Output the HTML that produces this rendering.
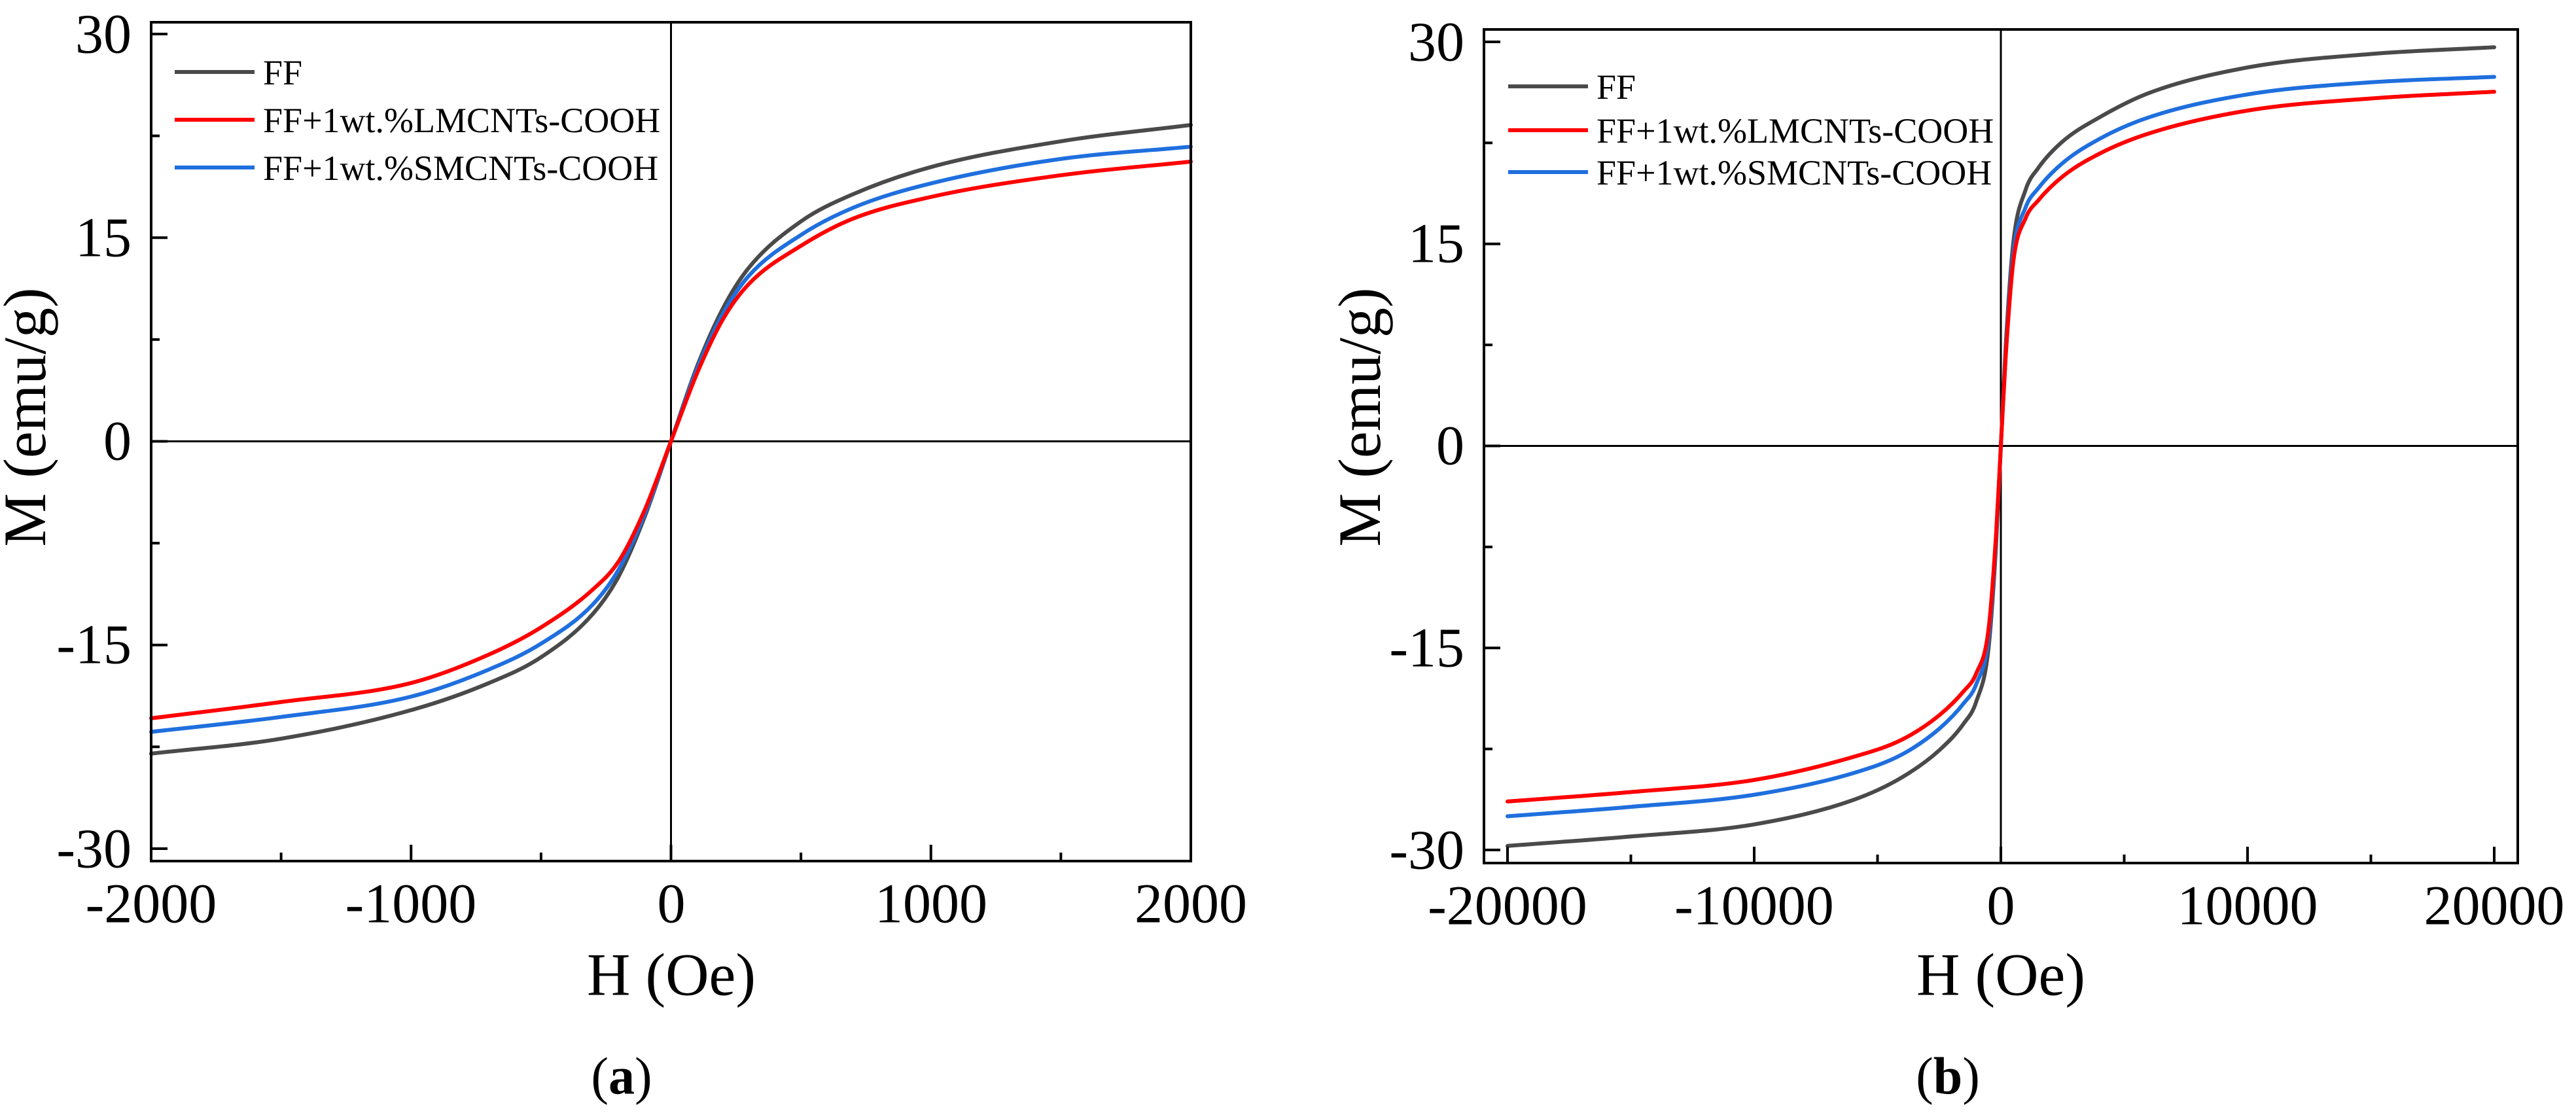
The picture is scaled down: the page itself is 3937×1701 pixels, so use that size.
<!DOCTYPE html>
<html><head><meta charset="utf-8"><style>
html,body{margin:0;padding:0;background:#fff;}
#wrap{position:relative;width:3937px;height:1701px;overflow:hidden;}
svg{display:block;position:absolute;left:0;top:0;}
.lbl{position:absolute;font-family:"Liberation Serif","Times New Roman",serif;line-height:1;white-space:nowrap;color:#000;font-size:40px;}
</style></head><body>
<div id="wrap">
<svg id="fig" width="3937" height="1701" viewBox="0 0 3937 1701" xmlns="http://www.w3.org/2000/svg"></svg>
</div>
<script>
// Panel (a) data
const hA = [-2000,-1500,-1000,-700,-500,-300,-200,-100,0,100,200,300,500,700,1000,1500,2000];
const ffA = [-23.0,-21.9,-19.8,-17.8,-15.9,-12.7,-9.9,-5.5,0,5.5,9.8,12.8,16.2,18.2,20.2,22.1,23.3];
const smA = [-21.4,-20.3,-18.8,-16.8,-14.9,-12.0,-9.4,-5.3,0,5.3,9.4,12.2,15.2,17.2,19.0,20.8,21.7];
const lmA = [-20.4,-19.2,-17.8,-15.7,-13.7,-10.9,-8.8,-5.0,0,5.0,9.0,11.6,14.4,16.4,18.0,19.6,20.6];
const xTicksA = [-2000,-1000,0,1000,2000];
const xTickLabelsA = ["-2000","-1000","0","1000","2000"];
// Panel (b) data
const hB = [-20000,-15000,-10000,-6000,-4000,-2500,-1500,-1000,-500,-200,0,200,500,1000,1500,2500,4000,6000,10000,15000,20000];
const ffB = [-29.7,-29.0,-28.1,-26.3,-24.6,-22.6,-20.6,-19.0,-15,-7.5,0,7.5,15,19.0,20.6,22.6,24.4,26.2,28.1,29.1,29.6];
const smB = [-27.5,-26.8,-25.9,-24.3,-22.9,-21.0,-19.1,-17.7,-14.2,-7,0,7,14.2,17.7,19.1,21.0,22.8,24.4,26.1,27.0,27.4];
const lmB = [-26.4,-25.7,-24.8,-23.1,-21.8,-20.0,-18.2,-16.9,-13.6,-6.7,0,6.7,13.6,16.9,18.2,20.0,21.7,23.2,24.9,25.8,26.3];
const xTicksB = [-20000,-10000,0,10000,20000];
const xTickLabelsB = ["-20000","-10000","0","10000","20000"];
const yTicks = [-30,-15,0,15,30];
const yTickLabels = ["-30","-15","0","15","30"];
const seriesNames = ["FF","FF+1wt.%LMCNTs-COOH","FF+1wt.%SMCNTs-COOH"];
const seriesColors = ["#4a4a4a","#ff0000","#1f6fde"];

const NS="http://www.w3.org/2000/svg";
const svg=document.getElementById('fig');
const wrap=document.getElementById('wrap');
function mk(tag,attrs,parent,text){const e=document.createElementNS(NS,tag);for(const k in attrs)e.setAttribute(k,attrs[k]);if(text!==undefined)e.textContent=text;(parent||svg).appendChild(e);return e;}
// HTML label rendered at 40px and scaled to target size; (x,y)=baseline anchor point
function label(x,y,size,anchor,str,rot){
  const d=document.createElement('div');
  d.className='lbl';
  d.textContent=str;
  const base=40*0.8375;
  const k=size/40;
  d.style.left=x+'px';
  d.style.top=(y-base)+'px';
  const tx=anchor==='end'?'-100%':anchor==='middle'?'-50%':'0';
  d.style.transformOrigin='0 '+base+'px';
  d.style.transform=(rot?'rotate('+rot+'deg) ':'')+'scale('+k+') translateX('+tx+')';
  wrap.appendChild(d);
  return d;
}

function monoPath(px,py){
  const n=px.length;const d=[],m=[];
  for(let i=0;i<n-1;i++)d.push((py[i+1]-py[i])/(px[i+1]-px[i]));
  m.push(d[0]);for(let i=1;i<n-1;i++){m.push(d[i-1]*d[i]<=0?0:(d[i-1]+d[i])/2);}m.push(d[n-2]);
  for(let i=0;i<n-1;i++){if(d[i]===0){m[i]=0;m[i+1]=0;continue;}const a=m[i]/d[i],b=m[i+1]/d[i];const s=a*a+b*b;if(s>9){const t=3/Math.sqrt(s);m[i]=t*a*d[i];m[i+1]=t*b*d[i];}}
  let p='M'+px[0].toFixed(1)+','+py[0].toFixed(1);
  for(let i=0;i<n-1;i++){const h=px[i+1]-px[i];p+=' C'+(px[i]+h/3).toFixed(1)+','+(py[i]+m[i]*h/3).toFixed(1)+' '+(px[i+1]-h/3).toFixed(1)+','+(py[i+1]-m[i+1]*h/3).toFixed(1)+' '+px[i+1].toFixed(1)+','+py[i+1].toFixed(1);}
  return p;
}

function panel(cfg){
  const g=mk('g',{});
  
  
  const X=v=>cfg.x0px+(v-cfg.xmin)/(cfg.xmax-cfg.xmin)*(cfg.x1px-cfg.x0px);
  const Y=v=>cfg.y0px+(v-(-30))/(60)*(cfg.y1px-cfg.y0px);
  const L=cfg.left,R=cfg.right,T=cfg.top,B=cfg.bottom;
  const zv=mk('line',{x1:X(0),x2:X(0),y1:T,y2:B,stroke:'#000','stroke-width':3},g);
  
  const zh=mk('line',{x1:L,x2:R,y1:Y(0),y2:Y(0),stroke:'#000','stroke-width':3},g);
  
  const hs=cfg.h;const sets=[cfg.ff,cfg.lm,cfg.sm];
  [0,2,1].forEach(i=>{
    const px=hs.map(X),py=sets[i].map(Y);
    const p=mk('path',{d:monoPath(px,py),fill:'none',stroke:seriesColors[i],'stroke-width':6,'stroke-linecap':'round','stroke-linejoin':'round'},g);
    
    
  });
  const fr=mk('rect',{x:L,y:T,width:R-L,height:B-T,fill:'none',stroke:'#000','stroke-width':4},g);
  
  yTicks.forEach((v,i)=>{
    const t=mk('line',{x1:L,x2:L+25,y1:Y(v),y2:Y(v),stroke:'#000','stroke-width':4},g);
    
    const lb=label(L-30,Y(v)+29,86,'end',yTickLabels[i]);
    
    
    if(i<yTicks.length-1){const mv=(v+yTicks[i+1])/2;
      const mt=mk('line',{x1:L,x2:L+13,y1:Y(mv),y2:Y(mv),stroke:'#000','stroke-width':4},g);
      }
  });
  cfg.xt.forEach((v,i)=>{
    const t=mk('line',{x1:X(v),x2:X(v),y1:B,y2:B-25,stroke:'#000','stroke-width':4},g);
    
    const lb=label(X(v),B+94,86,'middle',cfg.xl[i]);
    
    
    if(i<cfg.xt.length-1){const mv=(v+cfg.xt[i+1])/2;
      const mt=mk('line',{x1:X(mv),x2:X(mv),y1:B,y2:B-13,stroke:'#000','stroke-width':4},g);
      }
  });
  const xt=label(X(0),1521,92,'middle','H (Oe)');
  
  
  const yt=label(cfg.ytx,637,92,'middle','M (emu/g)',-90);
  
  
  seriesNames.forEach((s,i)=>{
    const ly=cfg.legY[i];
    const ll=mk('line',{x1:cfg.legX,x2:cfg.legX+122,y1:ly,y2:ly,stroke:seriesColors[i],'stroke-width':6},g);
    
    const lt=label(cfg.legX+135,ly+19,54,'start',s);
    
    
  });
  const cap=label(cfg.capX,1672,80,'middle','');
  
  
  cap.innerHTML='(<b>'+cfg.cap+'</b>)';
}

panel({name:'panel-a',h:hA,ff:ffA,sm:smA,lm:lmA,xt:xTicksA,xl:xTickLabelsA,
  xmin:-2000,xmax:2000,x0px:231,x1px:1820,y0px:1297,y1px:52,
  left:231,right:1820,top:34,bottom:1316,ytx:70,legX:267,legY:[110,183,256],capX:950,cap:'a'});
panel({name:'panel-b',h:hB,ff:ffB,sm:smB,lm:lmB,xt:xTicksB,xl:xTickLabelsB,
  xmin:-20000,xmax:20000,x0px:2304,x1px:3812,y0px:1299,y1px:64,
  left:2268,right:3848,top:45,bottom:1319,ytx:2110,legX:2305,legY:[132,199,263],capX:2977,cap:'b'});
</script>
</body></html>
